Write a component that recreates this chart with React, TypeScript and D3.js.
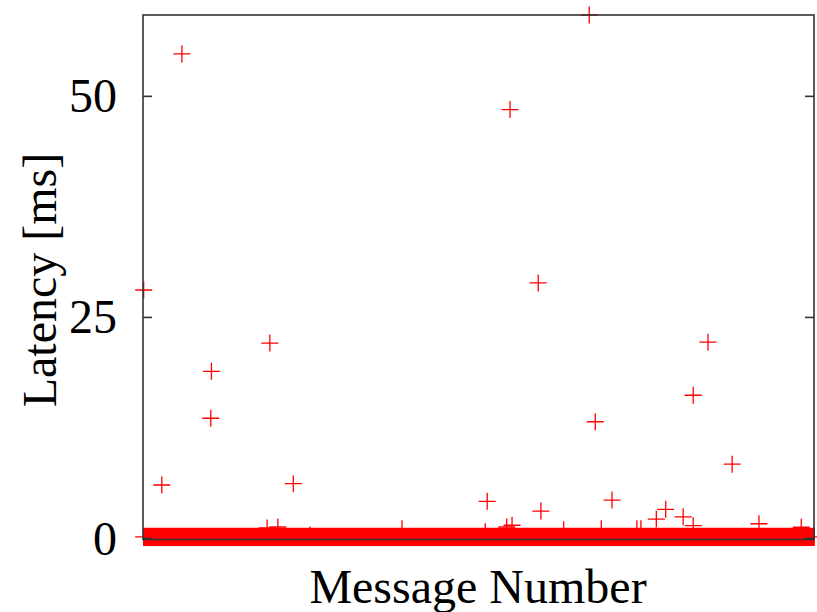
import React from "react";
import * as d3 from "d3";

// ---- data ----
const yTicks = [0, 25, 50];
const xLabel = "Message Number";
const yLabel = "Latency [ms]";

// outlier messages (message number, latency ms)
const msgIndex = [
  1, 28, 58, 102, 101, 189, 224, 513, 547, 589, 593, 665, 674, 699, 820, 842, 878,
  185, 201, 249, 386, 510, 542, 550, 627, 683, 736, 742, 765, 779, 805, 820, 918, 981,
];
const latencyMs = [
  28.1, 6.05, 54.8, 18.9, 13.6, 22.1, 6.2, 4.2, 48.5, 28.9, 3.1, 59.2, 13.2, 4.35, 16.2, 22.2, 8.4,
  1.2, 1.3, 0.4, 1.1, 0.75, 1.3, 1.5, 1.0, 1.1, 1.1, 1.1, 2.2, 3.3, 2.45, 1.45, 1.67, 1.27,
];

// the bulk of messages: nearly all at this latency over the full run
const bulkFirstMsg = 1;
const bulkLastMsg = 1000;
const bulkLatencyMs = 0.18;

const xDomain = [0, 1000];
const yDomain = [0, 59.2];

const W = 817;
const H = 612;
const left = 143;
const right = 814;
const top = 15;
const bottom = 539.5;
const arm = 8.5;
const red = "#ff0000";
const font = "'Liberation Serif', 'Times New Roman', serif";

function Plus({ x, y }: { x: number; y: number }) {
  return (
    <path
      d={`M${x - arm},${y}H${x + arm}M${x},${y - arm}V${y + arm}`}
      stroke={red}
      strokeWidth={1.3}
      fill="none"
    />
  );
}

export default function App() {
  const xs = d3.scaleLinear().domain(xDomain).range([left, right]);
  const ys = d3.scaleLinear().domain(yDomain).range([538.5, top]);

  const bx0 = xs(bulkFirstMsg);
  const bx1 = xs(bulkLastMsg);
  const by = ys(bulkLatencyMs);

  return (
    <svg
      width={W}
      height={H}
      style={{ position: "absolute", left: 0, top: 0, background: "#fff" }}
    >
      {/* bulk band of markers */}
      <rect
        x={bx0 - 0.65}
        y={by - arm - 0.65}
        width={bx1 - bx0 + 1.3}
        height={2 * arm + 1.3}
        fill={red}
      />
      <Plus x={bx0} y={by} />
      <Plus x={bx1} y={by} />

      {msgIndex.map((m, i) => (
        <Plus key={i} x={xs(m)} y={ys(latencyMs[i])} />
      ))}

      {/* frame */}
      <rect
        x={left}
        y={top}
        width={right - left}
        height={bottom - top}
        fill="none"
        stroke="#333"
        strokeWidth={1.6}
      />
      {yTicks.map((t) => (
        <g key={t}>
          <line x1={left} x2={left + 9} y1={ys(t)} y2={ys(t)} stroke="#333" strokeWidth={1.6} />
          <line x1={right - 9} x2={right} y1={ys(t)} y2={ys(t)} stroke="#333" strokeWidth={1.6} />
          <text
            x={117}
            y={ys(t) + 16}
            textAnchor="end"
            fontFamily={font}
            fontSize={48}
            fill="#000"
          >
            {t}
          </text>
        </g>
      ))}

      <text
        x={478}
        y={603}
        textAnchor="middle"
        fontFamily={font}
        fontSize={48}
        fill="#000"
      >
        {xLabel}
      </text>
      <text
        transform={`translate(56,280) rotate(-90)`}
        textAnchor="middle"
        fontFamily={font}
        fontSize={48}
        fill="#000"
      >
        {yLabel}
      </text>
    </svg>
  );
}
